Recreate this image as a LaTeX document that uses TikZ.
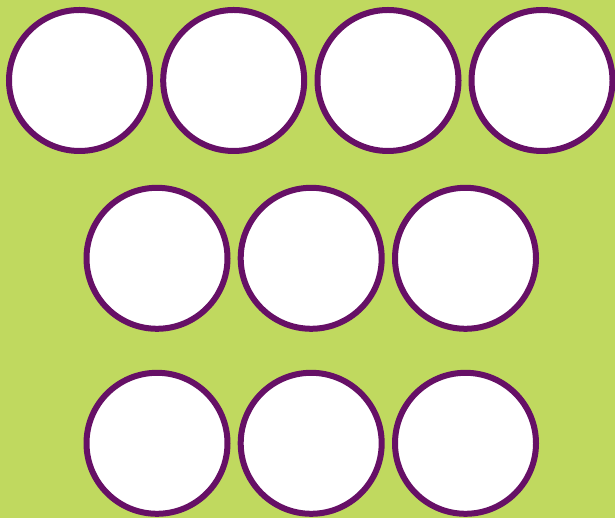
\documentclass[tikz,border=0pt]{standalone}
\definecolor{bggreen}{RGB}{192,217,95}
\definecolor{ringpurple}{RGB}{102,16,102}
\begin{document}
\begin{tikzpicture}[x=1pt,y=1pt,
  ring/.style={circle,draw=ringpurple,fill=white,line width=6pt,minimum size=141pt,inner sep=0pt}]
\fill[bggreen] (0,0) rectangle (615,518);
\useasboundingbox (0,0) rectangle (615,518);
\node[ring] (a1) at (79.5,437.5) {};
\node[ring] (a2) at (233.7,437.5) {};
\node[ring] (a3) at (388,437.5) {};
\node[ring] (a4) at (542,437.5) {};
\node[ring] (b1) at (157,259.7) {};
\node[ring] (b2) at (311.2,259.7) {};
\node[ring] (b3) at (465.5,259.7) {};
\node[ring] (c1) at (157,74.7) {};
\node[ring] (c2) at (311.2,74.7) {};
\node[ring] (c3) at (465.5,74.7) {};
\end{tikzpicture}
\end{document}
